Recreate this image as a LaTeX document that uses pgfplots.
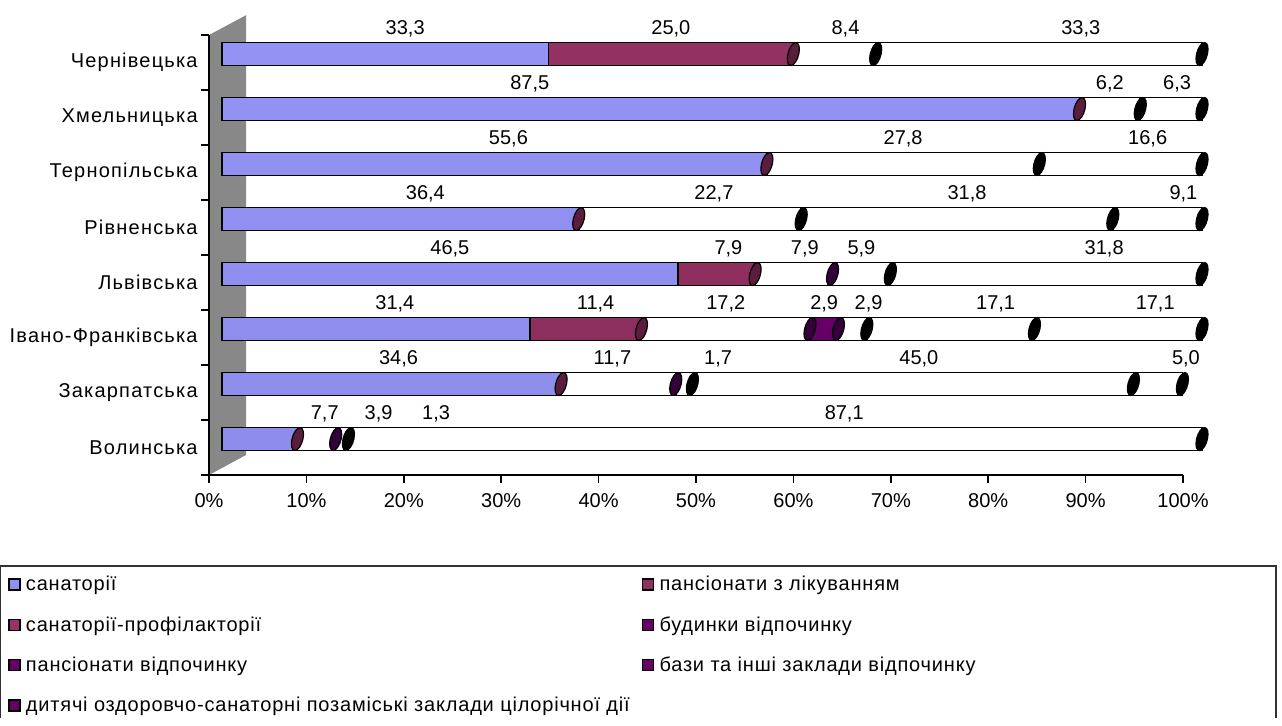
\documentclass[border=0pt]{standalone}
\usepackage{fontspec}
\setmainfont{Liberation Sans}
\newfontfamily\spacedA[LetterSpace=6]{Liberation Sans}
\newfontfamily\spacedB[LetterSpace=4]{Liberation Sans}
\usepackage{pgfplots}
\usepackage{pgfplotstable}
\pgfplotsset{compat=1.18}

\definecolor{c1}{HTML}{9999FF}
\definecolor{c2}{HTML}{993366}
\definecolor{c4}{HTML}{660066}
\definecolor{cap2}{HTML}{5A1E3C}
\definecolor{cap3}{HTML}{33003A}
\definecolor{wall}{HTML}{888888}

\newcommand\fsz{\fontsize{15}{18}\selectfont}

% idx 0 = Волинська ... 7 = Чернівецька; d1..d7 = label offsets (px)
\pgfplotstableread{
idx S1 S2 S3 S4 S5 S6 S7 d1 d2 d3 d4 d5 d6 d7
0 7.7 0 3.9 0 1.3 0 87.1 65 0 62 0 94 0 69
1 34.6 0 11.7 0 1.7 45.0 5.0 7 0 -6 0 34 6 28
2 31.4 11.4 17.2 2.9 2.9 17.1 17.1 19 10 0 0 16 45 37
3 46.5 7.9 7.9 0 0 5.9 31.8 0 12 11 0 0 0 58
4 36.4 0 0 0 22.7 31.8 9.1 25 0 0 0 24 10 26
5 55.6 0 0 0 0 27.8 16.6 14 0 0 0 0 0 27
6 87.5 0 0 0 0 6.2 6.3 -121 0 0 0 0 0 6
7 33.3 25.0 0 0 0 8.4 33.3 20 0 0 0 0 11 42
}\data
% segment ends, for the cylinder caps
\pgfplotstablecreatecol[expr={\thisrow{S1}+\thisrow{S2}}]{E2}\data
\pgfplotstablecreatecol[expr={\thisrow{E2}+\thisrow{S3}}]{E3}\data
\pgfplotstablecreatecol[expr={\thisrow{E3}+\thisrow{S4}}]{E4}\data
\pgfplotstablecreatecol[expr={\thisrow{E4}+\thisrow{S5}}]{E5}\data
\pgfplotstablecreatecol[expr={\thisrow{E5}+\thisrow{S6}}]{E6}\data
\pgfplotstablecreatecol[expr={\thisrow{E6}+\thisrow{S7}}]{E7}\data

\pgfdeclareplotmark{cap}{%
  \pgfpathellipse{\pgfpointorigin}{\pgfqpoint{4.1pt}{0pt}}{\pgfqpoint{1.9pt}{8.6pt}}%
  \pgfusepathqfillstroke}

\pgfplotsset{
  seg/.style 2 args={
    visualization depends on={\thisrow{#1} \as \vv},
    visualization depends on={\thisrow{#2} \as \dd}},
  legsq/.style={legend image code/.code={
    \draw[draw=black, line width=1.1pt, fill=#1] (0pt,-4.1pt) rectangle (8.2pt,4.1pt);}},
  capplot/.style 2 args={only marks, mark=cap,
    mark options={fill=#1, draw=black, line width=0.9pt},
    x filter/.expression={\thisrow{#2}>0 ? x : nan}},
  bars/.style={at={(166.5pt,188.6pt)}, anchor=south west,
    width=735pt, height=330pt, scale only axis,
    hide axis, clip=false,
    xmin=0, xmax=100, ymin=-0.5, ymax=7.5},
}

\begin{document}
\begin{tikzpicture}
\path (0pt,0pt) rectangle (961.5pt,538.5pt);

\begin{axis}[
  at={(156.75pt,182.25pt)}, anchor=south west,
  width=730.5pt, height=330pt, scale only axis,
  xmin=0, xmax=100, ymin=-0.5, ymax=7.5,
  axis lines*=left,
  axis line style={line width=1.1pt, -},
  tick align=outside,
  xtick={0,10,...,100},
  xticklabel={\pgfmathprintnumber{\tick}\%},
  ytick={0,...,7},
  yticklabels={Волинська, Закарпатська, Івано-Франківська, Львівська,
    Рівненська, Тернопільська, Хмельницька, Чернівецька},
  minor ytick={-0.5,0.5,...,7.5},
  major tick length=6pt, minor tick length=6pt,
  tick style={black, line width=1.1pt},
  major y tick style={draw=none},
  ticklabel style={font=\fsz},
  xticklabel style={yshift=-4pt},
  yticklabel style={xshift=1pt, font=\fsz\spacedA},
  /pgf/number format/assume math mode=true,
  clip=false, axis on top,
]
\fill[wall] (axis cs:0,-0.5) -- (axis cs:0,7.5) -- (axis cs:3.8,7.86)
  -- (axis cs:3.8,-0.136) -- cycle;
\end{axis}

\begin{axis}[
  bars,
  xbar stacked, bar width=17.25pt,
  nodes near coords={\ifdim\vv pt>0pt\pgfmathprintnumber[fixed,fixed zerofill,precision=1,use comma,assume math mode=true]{\vv}\fi},
  every node near coord/.append style={font=\fsz, anchor=base,
    xshift={0.75pt*\dd}, yshift=14.6pt},
  legend columns=2,
  legend cell align=left,
  legend style={draw=none, fill=none, at={(-0.2184,-0.222)}, anchor=north west,
    font=\fsz\spacedB, inner sep=0pt, nodes={inner sep=0pt, minimum height=30.2pt},
    row sep=0pt,
    /tikz/every odd column/.append style={column sep=4pt},
    /tikz/every even column/.append style={column sep=9pt}},
]
\addplot[draw=black, line width=1.2pt, top color=c1!96!black, middle color=c1!78!white,
  bottom color=c1!92!black, seg={S1}{d1}, legsq=c1]
  table[x=S1, y=idx] {\data};
\addlegendentry{санаторії}
\addplot[draw=black, line width=1.2pt, top color=c2!96!black, middle color=c2!88!white,
  bottom color=c2!92!black, seg={S2}{d2}, legsq=c2]
  table[x=S2, y=idx] {\data};
\addlegendentry{пансіонати з лікуванням}
\addplot[draw=black, line width=1.2pt, fill=white, seg={S3}{d3}, legsq=c2]
  table[x=S3, y=idx] {\data};
\addlegendentry{санаторії-профілакторії}
\addplot[draw=black, line width=1.2pt, fill=c4, seg={S4}{d4}, legsq=c4]
  table[x=S4, y=idx] {\data};
\addlegendentry{будинки відпочинку}
\addplot[draw=black, line width=1.2pt, fill=white, seg={S5}{d5}, legsq=c4]
  table[x=S5, y=idx] {\data};
\addlegendentry{пансіонати відпочинку}
\addplot[draw=black, line width=1.2pt, fill=white, seg={S6}{d6}, legsq=c4]
  table[x=S6, y=idx] {\data};
\addlegendentry{бази та інші заклади відпочинку}
\addplot[draw=black, line width=1.2pt, fill=white, seg={S7}{d7}, legsq=c4]
  table[x=S7, y=idx] {\data};
\addlegendentry{дитячі оздоровчо-санаторні позаміські заклади цілорічної дії}
\end{axis}

% caps at the ends of the segments
\begin{axis}[bars]
\addplot[only marks, mark=cap, mark options={fill=cap2, draw=black, line width=0.9pt}]
  table[x=E2, y=idx] {\data};
\addplot[capplot={cap3}{S3}] table[x=E3, y=idx] {\data};
\addplot[capplot={cap3}{S4}] table[x=E4, y=idx] {\data};
\addplot[capplot={black}{S5}] table[x=E5, y=idx] {\data};
\addplot[capplot={black}{S6}] table[x=E6, y=idx] {\data};
\addplot[capplot={black}{S7}] table[x=E7, y=idx] {\data};
\end{axis}

\draw[line width=0.8pt, black!80] (0.4pt,0pt) -- (0.4pt,114pt) -- (957pt,114pt) -- (957pt,0pt);
\end{tikzpicture}
\end{document}
